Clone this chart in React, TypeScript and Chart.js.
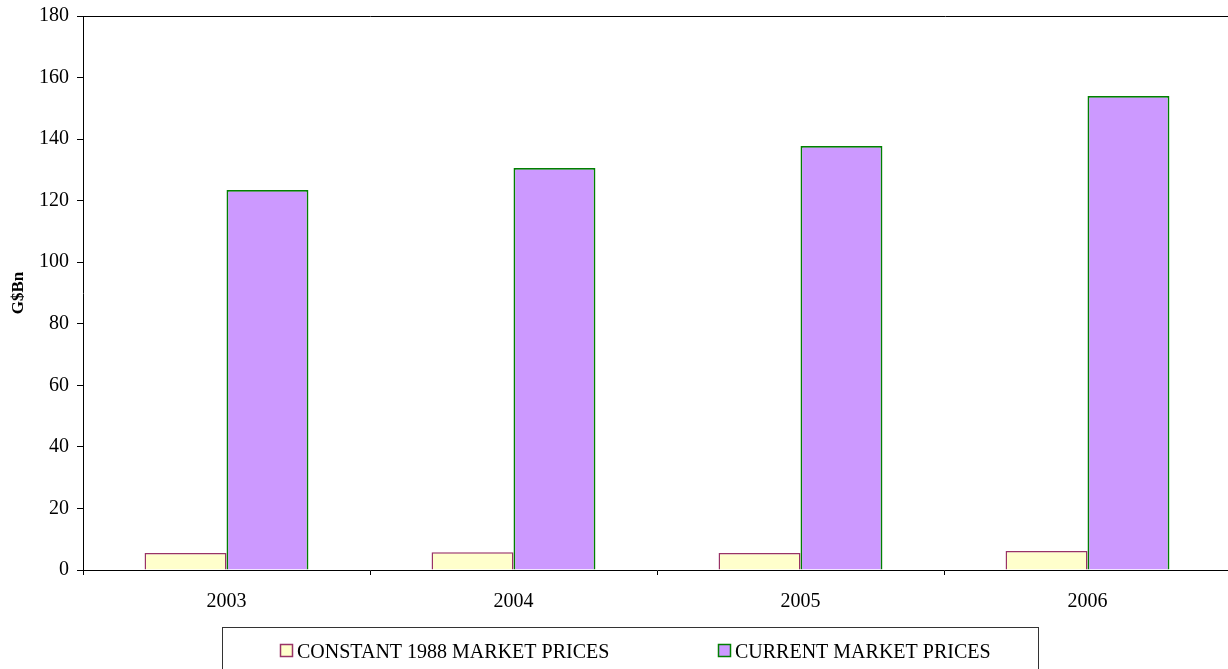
import React, { useEffect, useRef } from "react";
import { Chart, registerables } from "chart.js";

Chart.register(...registerables);

const categories = ["2003", "2004", "2005", "2006"];
const constantPrices = [5.5, 5.8, 5.5, 6.2];
const currentPrices = [123.5, 130.6, 137.8, 154.0];
const seriesLabels = ["CONSTANT 1988 MARKET PRICES", "CURRENT MARKET PRICES"];
const yTitle = "G$Bn";

const FONT = "'Liberation Serif', 'Times New Roman', serif";

const framePlugin = {
  id: "framePlugin",
  afterDraw(chart: any) {
    const ctx = chart.ctx;
    const a = chart.chartArea;
    ctx.save();
    ctx.strokeStyle = "#000";
    ctx.lineWidth = 1;
    ctx.beginPath();
    ctx.moveTo(a.left, a.top + 0.5);
    ctx.lineTo(a.right + 5, a.top + 0.5);
    ctx.stroke();

    // legend box
    const bx = 222.5, by = 627.5, bw = 816, bh = 60;
    ctx.strokeStyle = "#333";
    ctx.strokeRect(bx, by, bw, bh);
    const items = [
      { x: 280, ds: chart.data.datasets[0] },
      { x: 718, ds: chart.data.datasets[1] },
    ];
    ctx.font = "20px " + FONT;
    ctx.textBaseline = "alphabetic";
    ctx.textAlign = "left";
    for (const it of items) {
      ctx.fillStyle = it.ds.backgroundColor;
      ctx.fillRect(it.x + 0.5, 644.5, 12, 12);
      ctx.strokeStyle = it.ds.borderColor;
      ctx.lineWidth = 1.5;
      ctx.strokeRect(it.x + 0.5, 644.5, 12, 12);
      ctx.fillStyle = "#000";
      ctx.fillText(it.ds.label, it.x + 17, 658);
    }
    ctx.restore();
  },
};

export default function App() {
  const ref = useRef<HTMLCanvasElement | null>(null);
  useEffect(() => {
    if (!ref.current) return;
    const chart = new Chart(ref.current, {
      type: "bar",
      data: {
        labels: categories,
        datasets: [
          {
            label: seriesLabels[0],
            data: constantPrices,
            backgroundColor: "#FFFFCC",
            borderColor: "#993366",
            borderWidth: 1.5,
          },
          {
            label: seriesLabels[1],
            data: currentPrices,
            backgroundColor: "#CC99FF",
            borderColor: "#008000",
            borderWidth: 1.8,
          },
        ],
      },
      options: {
        responsive: false,
        animation: false,
        layout: { padding: { top: 16, right: 1, left: 0, bottom: 0 } },
        datasets: { bar: { barPercentage: 1, categoryPercentage: 0.571 } },
        plugins: { legend: { display: false }, tooltip: { enabled: false } },
        scales: {
          x: {
            grid: {
              drawOnChartArea: false,
              drawTicks: true,
              tickLength: 5,
              color: "#000",
            },
            border: { display: true, color: "#000", width: 1 },
            ticks: {
              color: "#000",
              font: { family: FONT, size: 20 },
              padding: 15,
            },
            afterFit(scale: any) {
              scale.height = 99;
              scale.paddingLeft = 0;
              scale.paddingRight = 0;
            },
          },
          y: {
            min: 0,
            max: 180,
            ticks: {
              stepSize: 20,
              color: "#000",
              font: { family: FONT, size: 20 },
              padding: 8,
            },
            grid: {
              drawOnChartArea: false,
              drawTicks: true,
              tickLength: 6,
              color: "#000",
            },
            border: { display: true, color: "#000", width: 1 },
            title: {
              display: true,
              text: yTitle,
              color: "#000",
              font: { family: FONT, size: 17, weight: "bold" },
              padding: { top: 8, bottom: 0 },
            },
            afterFit(scale: any) {
              scale.width = 83;
              scale.paddingTop = 0;
              scale.paddingBottom = 0;
            },
          },
        },
      },
      plugins: [framePlugin],
    } as any);
    return () => chart.destroy();
  }, []);
  return (
    <div
      style={{
        position: "absolute",
        left: 0,
        top: 0,
        width: 1228,
        height: 669,
        overflow: "hidden",
        background: "#fff",
      }}
    >
      <canvas ref={ref} width={1232} height={669} style={{ display: "block" }} />
    </div>
  );
}
